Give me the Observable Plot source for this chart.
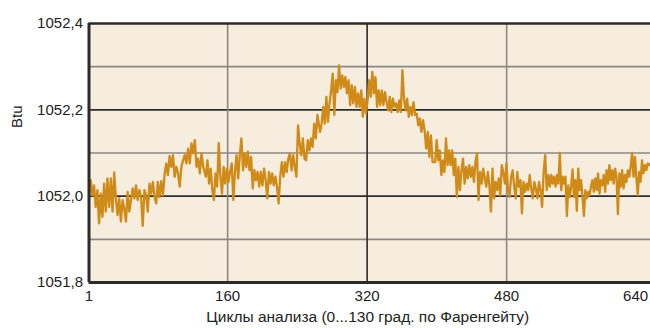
<!DOCTYPE html>
<html>
<head>
<meta charset="utf-8">
<script src="https://cdn.jsdelivr.net/npm/d3@7"></script>
<script src="https://cdn.jsdelivr.net/npm/@observablehq/plot@0.6"></script>
<style>
  html, body { margin: 0; padding: 0; background: #ffffff; overflow: hidden; }
  #chart svg { display: block; }
</style>
</head>
<body>
<div id="chart"></div>
<script>
// ---- data ----
const segStart = [1, 135, 266, 398, 528];
const segEnd = [132, 263, 395, 526, 645];

const btuSeg1 = [1051.995, 1052.037, 1052.002, 1052.025, 1051.975, 1052.014, 1051.937, 1052.006, 1051.952, 1052.029,
  1051.964, 1052.041, 1051.975, 1052.041, 1051.964, 1052.055, 1051.995, 1051.956, 1051.995, 1051.941,
  1051.991, 1051.971, 1051.941, 1052.010, 1051.964, 1051.991, 1052.018, 1051.995, 1052.025, 1051.991,
  1052.014, 1051.998, 1051.931, 1052.014, 1052.002, 1051.964, 1052.029, 1052.006, 1052.033, 1051.998,
  1051.983, 1052.033, 1051.998, 1052.035, 1052.002, 1052.049, 1052.076, 1052.049, 1052.093, 1052.068,
  1052.095, 1052.045, 1052.068, 1052.053, 1052.022, 1052.068, 1052.083, 1052.095, 1052.076, 1052.110,
  1052.076, 1052.122, 1052.099, 1052.130, 1052.068, 1052.087, 1052.053, 1052.099, 1052.068];

const btuSeg2 = [1052.045, 1052.083, 1052.029, 1052.064, 1052.014, 1051.991, 1052.053, 1052.022, 1052.123, 1052.045,
  1052.006, 1052.068, 1052.029, 1052.064, 1052.033, 1052.056, 1052.076, 1051.991, 1052.056, 1052.095,
  1052.041, 1052.095, 1052.134, 1052.060, 1052.099, 1052.068, 1052.103, 1052.060, 1052.091, 1052.018,
  1052.060, 1052.037, 1052.056, 1052.022, 1052.056, 1052.025, 1052.064, 1052.037, 1051.995, 1052.056,
  1052.029, 1052.053, 1052.025, 1052.045, 1052.022, 1051.983, 1052.045, 1052.079, 1052.045, 1052.079,
  1052.056, 1052.087, 1052.099, 1052.060, 1052.095, 1052.068, 1052.045, 1052.164, 1052.122, 1052.095,
  1052.134, 1052.087, 1052.083, 1052.130, 1052.106, 1052.134, 1052.114, 1052.168, 1052.134, 1052.188];

const btuSeg3 = [1052.149, 1052.168, 1052.207, 1052.168, 1052.230, 1052.172, 1052.215, 1052.245, 1052.284, 1052.188,
  1052.269, 1052.241, 1052.303, 1052.249, 1052.280, 1052.253, 1052.276, 1052.238, 1052.269, 1052.211,
  1052.257, 1052.215, 1052.253, 1052.207, 1052.238, 1052.207, 1052.245, 1052.184, 1052.226, 1052.191,
  1052.222, 1052.269, 1052.230, 1052.288, 1052.238, 1052.276, 1052.207, 1052.245, 1052.211, 1052.245,
  1052.211, 1052.241, 1052.218, 1052.199, 1052.230, 1052.195, 1052.226, 1052.207, 1052.215, 1052.195,
  1052.222, 1052.195, 1052.292, 1052.226, 1052.199, 1052.226, 1052.184, 1052.207, 1052.188, 1052.218,
  1052.188, 1052.191, 1052.164, 1052.180, 1052.149, 1052.176, 1052.153, 1052.110, 1052.149, 1052.091,
  1052.141, 1052.079];

const btuSeg4 = [1052.079, 1052.130, 1052.083, 1052.106, 1052.049, 1052.083, 1052.056, 1052.134, 1052.072, 1052.106,
  1052.072, 1052.106, 1052.049, 1052.087, 1051.998, 1052.068, 1052.014, 1052.060, 1052.087, 1052.029,
  1052.068, 1052.041, 1052.072, 1052.045, 1052.068, 1052.033, 1052.079, 1052.099, 1051.991, 1052.056,
  1052.029, 1052.064, 1052.041, 1052.022, 1052.056, 1052.025, 1051.964, 1052.064, 1051.995, 1052.033,
  1052.014, 1052.041, 1052.002, 1052.072, 1052.053, 1052.029, 1052.076, 1052.014, 1051.998, 1052.045,
  1052.060, 1052.022, 1051.995, 1052.056, 1052.022, 1052.037, 1051.960, 1052.033, 1052.010, 1052.029,
  1052.014, 1052.049, 1052.018, 1051.995, 1052.033, 1052.018, 1051.995, 1052.033, 1052.014, 1051.975,
  1052.056, 1052.095, 1052.014];

const btuSeg5 = [1052.049, 1052.022, 1052.049, 1052.029, 1052.045, 1052.022, 1052.049, 1052.029, 1052.100, 1052.014,
  1052.045, 1052.029, 1052.045, 1051.954, 1052.025, 1051.998, 1052.022, 1052.062, 1051.998, 1052.037,
  1051.966, 1052.064, 1052.014, 1052.037, 1051.998, 1051.954, 1052.014, 1051.995, 1052.010, 1052.002,
  1052.022, 1052.037, 1052.010, 1052.041, 1052.014, 1052.053, 1052.006, 1052.037, 1052.025, 1052.049,
  1052.010, 1052.060, 1052.029, 1052.072, 1052.037, 1052.060, 1052.029, 1052.064, 1052.045, 1051.958,
  1052.053, 1052.022, 1052.060, 1052.018, 1052.049, 1052.033, 1052.060, 1052.045, 1052.068, 1052.100,
  1052.045, 1052.091, 1052.045, 1052.002, 1052.056, 1052.033, 1052.083, 1052.053, 1052.072, 1052.060,
  1052.076, 1052.072, 1052.076];

const yTickValues = [1051.8, 1052.0, 1052.2, 1052.4];
const yGridDark = [1052.0, 1052.2];
const yGridLight = [1051.9, 1052.1, 1052.3];
const xTickValues = [1, 160, 320, 480];
const xTickLast = [640];
const xGridDark = [320];
const xGridLight = [160, 480];
const xDomain = [1, 645];
const yDomain = [1051.8, 1052.4];
const yLabel = "Btu";
const xLabel = "Циклы анализа (0...130 град. по Фаренгейту)";

// ---- build table ----
const segments = [btuSeg1, btuSeg2, btuSeg3, btuSeg4, btuSeg5];
const data = [];
segments.forEach((vals, i) => {
  const a = segStart[i], b = segEnd[i], n = vals.length;
  vals.forEach((v, j) => data.push({cycle: a + j * (b - a) / (n - 1), btu: v}));
});

const fmtY = d => d.toFixed(1).replace(".", ",");
const lineColor = "#CF8A17";
const dark = "#2b2b2b";
const light = "#8d8882";

const chart = Plot.plot({
  width: 650,
  height: 328,
  marginLeft: 88.5,
  marginRight: 0,
  marginTop: 23,
  marginBottom: 46,
  style: {background: "transparent", fontFamily: "'Liberation Sans', Arial, sans-serif", fontSize: "15px", color: "#222"},
  x: {domain: xDomain},
  y: {domain: yDomain},
  marks: [
    Plot.frame({fill: "#F7EDDF", stroke: null}),
    Plot.ruleY(yGridLight, {stroke: light, strokeWidth: 1.6}),
    Plot.ruleY(yGridDark, {stroke: dark, strokeWidth: 1.6}),
    Plot.ruleX(xGridLight, {stroke: light, strokeWidth: 1.6}),
    Plot.ruleX(xGridDark, {stroke: dark, strokeWidth: 1.6}),
    Plot.line(data, {x: "cycle", y: "btu", stroke: lineColor, strokeWidth: 2.3}),
    Plot.ruleX([xDomain[0]], {stroke: dark, strokeWidth: 3}),
    Plot.ruleY([yDomain[0]], {stroke: dark, strokeWidth: 3}),
    Plot.ruleY([yDomain[1]], {stroke: dark, strokeWidth: 2.5}),
    Plot.axisY(yTickValues, {tickSize: 0, tickPadding: 6, tickFormat: fmtY, label: null, fontSize: 15}),
    Plot.axisX(xTickValues, {tickSize: 0, tickPadding: 8, tickFormat: d => String(d), label: null, fontSize: 15}),
    Plot.axisX(xTickLast, {tickSize: 0, tickPadding: 8, tickFormat: d => String(d), label: null, fontSize: 15, textAnchor: "end", dx: 2}),
    Plot.text([yLabel], {frameAnchor: "left", rotate: -90, dx: -72, dy: -25, fontSize: 15, fill: "#222"}),
    Plot.text([xLabel], {frameAnchor: "bottom", dx: -2, dy: 39, fontSize: 15.5, fill: "#222"})
  ]
});
document.getElementById("chart").appendChild(chart);
</script>
</body>
</html>
